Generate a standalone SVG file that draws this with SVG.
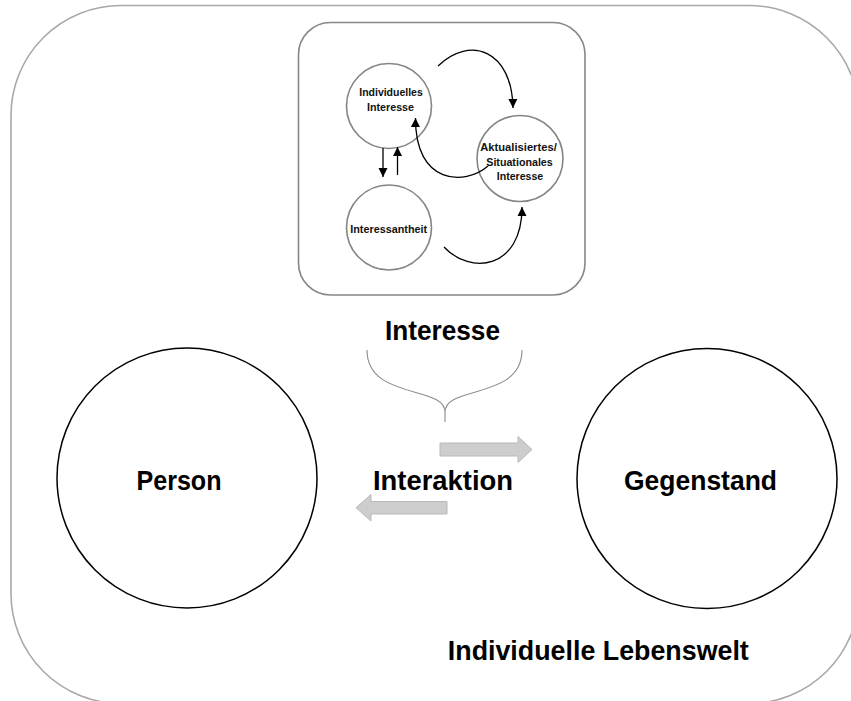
<svg xmlns="http://www.w3.org/2000/svg" width="851" height="701" viewBox="0 0 851 701">
<style>
.big{font-family:"Liberation Sans",Arial,sans-serif;font-weight:bold;font-size:28px;fill:#000;text-anchor:middle}
.small{font-family:"Liberation Sans",Arial,sans-serif;font-weight:bold;font-size:11px;fill:#111;text-anchor:middle}
.sc{fill:#fff;stroke:#858585;stroke-width:1.6}
.bc{fill:#fff;stroke:#000;stroke-width:1.5}
.conn{fill:none;stroke:#000;stroke-width:1.3}
.block{fill:#cdcdcd;stroke:#b9b9b9;stroke-width:1}
</style>
<defs>
<marker id="ah" markerUnits="userSpaceOnUse" markerWidth="10" markerHeight="10" refX="9" refY="5" orient="auto" viewBox="0 0 10 10">
<path d="M0,0.5 L9,5 L0,9.5 z" fill="#000"/>
</marker>
</defs>
<rect width="851" height="701" fill="#fff"/>
<g id="lebenswelt">
<rect x="11" y="5.5" width="848" height="698" rx="110" ry="110" fill="#fff" stroke="#aba7a7" stroke-width="1.6"/>
<text class="big" x="598.3" y="660" textLength="301" lengthAdjust="spacingAndGlyphs">Individuelle Lebenswelt</text>
</g>
<g id="interesse-box">
<rect x="298.5" y="22.5" width="286.5" height="272.5" rx="32" ry="32" fill="#fff" stroke="#878787" stroke-width="1.6"/>
</g>
<g id="individuelles-interesse">
<circle class="sc" cx="389" cy="106" r="42.5"/>
<text class="small" x="391" y="96" textLength="63.5" lengthAdjust="spacingAndGlyphs">Individuelles</text>
<text class="small" x="390.5" y="110.5" textLength="47" lengthAdjust="spacingAndGlyphs">Interesse</text>
</g>
<g id="aktualisiertes-interesse">
<circle class="sc" cx="520" cy="158.5" r="43"/>
<text class="small" x="518.5" y="150.5" textLength="76.5" lengthAdjust="spacingAndGlyphs">Aktualisiertes/</text>
<text class="small" x="519.5" y="165.5" textLength="66.5" lengthAdjust="spacingAndGlyphs">Situationales</text>
<text class="small" x="520" y="179.5" textLength="46.5" lengthAdjust="spacingAndGlyphs">Interesse</text>
</g>
<g id="interessantheit">
<circle class="sc" cx="389" cy="227.5" r="42.5"/>
<text class="small" x="388.7" y="232.5" textLength="77" lengthAdjust="spacingAndGlyphs">Interessantheit</text>
</g>
<g id="interesse-label">
<text class="big" x="442.5" y="340" textLength="115" lengthAdjust="spacingAndGlyphs">Interesse</text>
<path d="M367,350 C367,400 445,385 445,412 M522,350 C522,400 445,385 445,412 L445,422" fill="none" stroke="#8c8c8c" stroke-width="1.1"/>
</g>
<g id="person">
<circle class="bc" cx="187" cy="478" r="130"/>
<text class="big" x="179" y="490" textLength="85" lengthAdjust="spacingAndGlyphs">Person</text>
</g>
<g id="gegenstand">
<circle class="bc" cx="707" cy="478.5" r="130"/>
<text class="big" x="700.5" y="490" textLength="153" lengthAdjust="spacingAndGlyphs">Gegenstand</text>
</g>
<g id="interaktion">
<text class="big" x="443" y="490" textLength="140" lengthAdjust="spacingAndGlyphs">Interaktion</text>
</g>
<g id="connectors">
<path class="conn" d="M438,66 C470,35 512,50 513,108" marker-end="url(#ah)"/>
<path class="conn" d="M488,166 C465,186 415,185 415.5,118" marker-end="url(#ah)"/>
<path class="conn" d="M444,247 C470,275 522,270 522,207" marker-end="url(#ah)"/>
<path class="conn" d="M383,148 L383,177" marker-end="url(#ah)"/>
<path class="conn" d="M397.5,175 L397.5,147" marker-end="url(#ah)"/>
<path class="block" d="M440,443 L518,443 L518,436.5 L532,449.5 L518,462.5 L518,456 L440,456 z"/>
<path class="block" d="M447,501.5 L371,501.5 L371,494.5 L356,507.8 L371,521 L371,514 L447,514 z"/>
</g>
</svg>
